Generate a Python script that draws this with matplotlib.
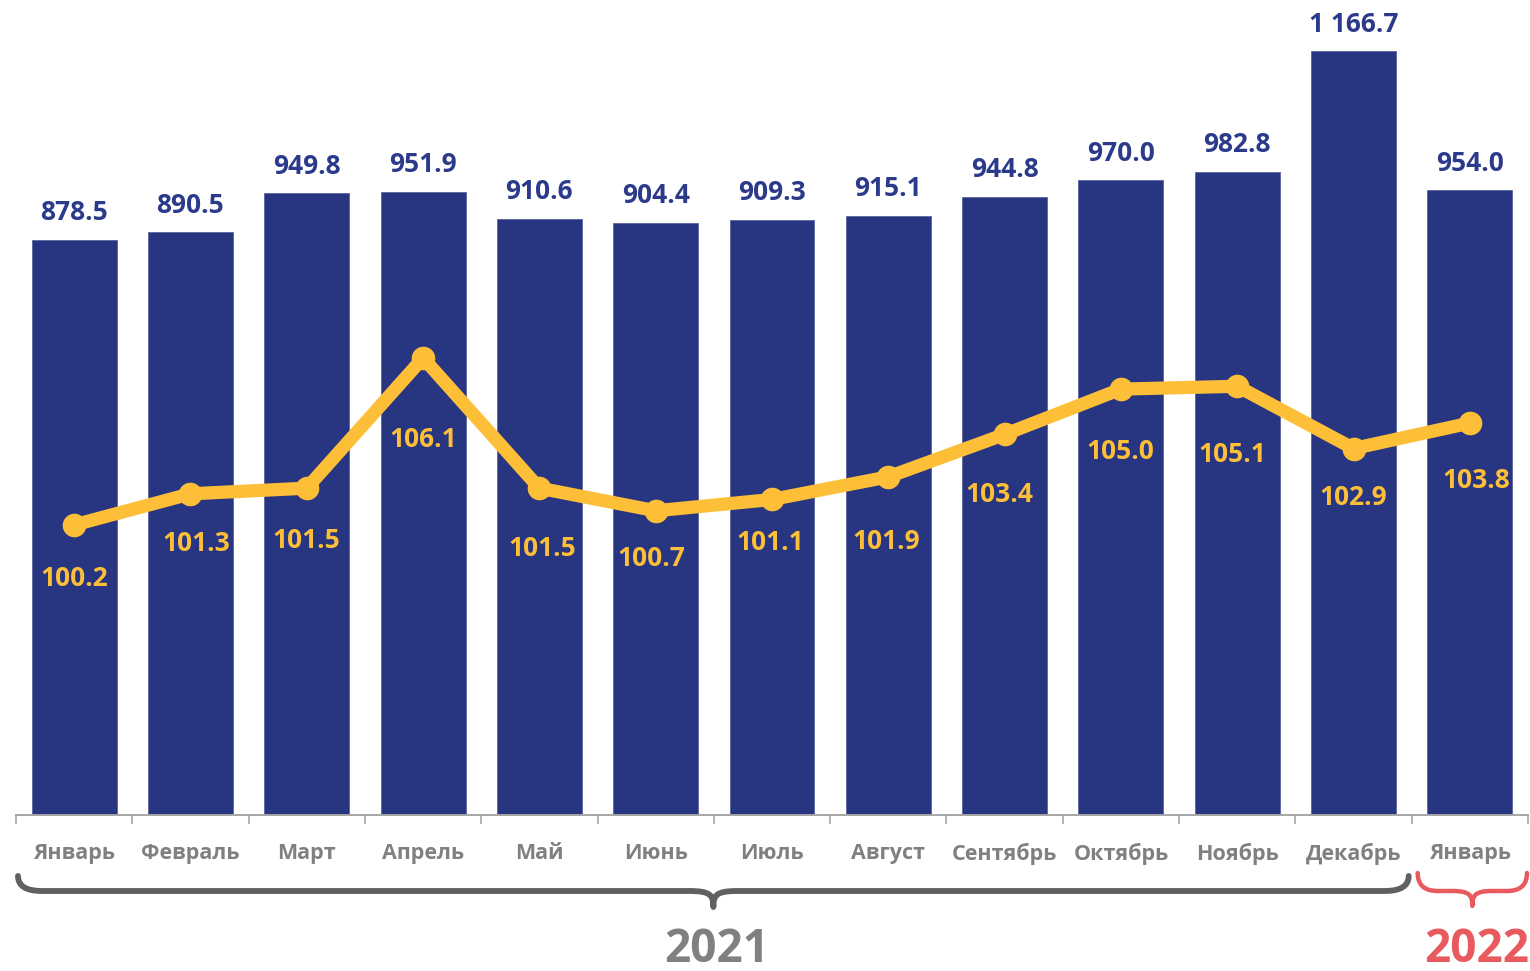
import matplotlib
matplotlib.use("Agg")
import matplotlib.pyplot as plt
from matplotlib.path import Path
from matplotlib.patches import PathPatch

plt.rcParams['font.family'] = ['Open Sans', 'DejaVu Sans']
plt.rcParams['font.weight'] = 'bold'

# данные
months = ['Январь', 'Февраль', 'Март', 'Апрель', 'Май', 'Июнь', 'Июль',
          'Август', 'Сентябрь', 'Октябрь', 'Ноябрь', 'Декабрь', 'Январь']
wages = [878.5, 890.5, 949.8, 951.9, 910.6, 904.4, 909.3,
         915.1, 944.8, 970.0, 982.8, 1166.7, 954.0]
index_pct = [100.2, 101.3, 101.5, 106.1, 101.5, 100.7, 101.1,
             101.9, 103.4, 105.0, 105.1, 102.9, 103.8]
years = ['2021', '2022']

# сдвиг подписей линии (пиксели), как они стоят на слайде
lbl_dx = [0, 6, 0, 0, 3, -4, -2, -2, -5, -1, -5, 0, 6]
lbl_dy = [54, 50, 52, 82, 60, 48, 43, 65, 60, 62, 68, 49, 57]

navy = '#283580'
yellow = '#FDBF38'
gray = '#808080'
red = '#E85A5E'

W, H = 1530, 971
fig = plt.figure(figsize=(W / 100, H / 100), dpi=100)

left, right, base = 16, 1528, 815
ax = fig.add_axes([left / W, (H - base) / H, (right - left) / W, base / H])
x = list(range(len(months)))

ax.bar(x, wages, width=0.73, color=navy, edgecolor='#5A64A0', linewidth=0.6, zorder=2)
ax.set_xlim(-0.5, len(months) - 0.5)
ax.set_ylim(0, 1245)
for xi, v in zip(x, wages):
    s = f'{v:,.1f}'.replace(',', ' ')
    ax.annotate(s, (xi, v), xytext=(0, 27), textcoords='offset pixels',
                ha='center', va='center', fontsize=19, color='#2B3A8A',
                fontweight='bold')

for s in ['top', 'right', 'left']:
    ax.spines[s].set_visible(False)
ax.spines['bottom'].set_color('#A6A6A6')
ax.spines['bottom'].set_linewidth(1.4)
ax.set_yticks([])
ax.set_xticks(x)
ax.set_xticklabels(months, fontsize=15.5, color=gray, fontweight='bold')
ax.tick_params(axis='x', which='major', length=0, pad=20)
ax.set_xticks([i - 0.5 for i in range(len(months) + 1)], minor=True)
ax.tick_params(axis='x', which='minor', length=6.5, width=1.2, color='#A6A6A6')

ax2 = ax.twinx()
ax2.set_ylim(89.95, 118.75)
ax2.plot(x, index_pct, color=yellow, linewidth=9.5, marker='o', markersize=16,
         solid_joinstyle='round', solid_capstyle='round', zorder=3)
for xi, v, dx, dy in zip(x, index_pct, lbl_dx, lbl_dy):
    ax2.annotate(f'{v:.1f}', (xi, v), xytext=(dx, -dy), textcoords='offset pixels',
                 ha='center', va='center', fontsize=19, color=yellow,
                 fontweight='bold')
ax2.axis('off')

# фигурные скобки и годы
ov = fig.add_axes([0, 0, 1, 1])
ov.set_xlim(0, W)
ov.set_ylim(H, 0)
ov.axis('off')
unit = (right - left) / len(months)


def brace(x0, x1, xm, ytop, yh, ytip, r, color, lw):
    verts = [(x0, ytop), (x0, yh), (x0 + r, yh),
             (xm - r, yh),
             (xm - 3, yh), (xm, yh + 4), (xm, ytip),
             (xm, yh + 4), (xm + 3, yh), (xm + r, yh),
             (x1 - r, yh),
             (x1, yh), (x1, ytop)]
    codes = [Path.MOVETO, Path.CURVE3, Path.CURVE3,
             Path.LINETO,
             Path.CURVE4, Path.CURVE4, Path.CURVE4,
             Path.CURVE4, Path.CURVE4, Path.CURVE4,
             Path.LINETO,
             Path.CURVE3, Path.CURVE3]
    ov.add_patch(PathPatch(Path(verts, codes), fill=False, edgecolor=color,
                           linewidth=lw, capstyle='round', joinstyle='round'))


x0 = left + 2
x1 = left + 12 * unit - 3
brace(x0, x1, (x0 + x1) / 2, 876, 891, 907, 24, '#606060', 4.2)
r0 = left + 12 * unit + 6
r1 = right - 1
brace(r0, r1, (r0 + r1) / 2, 873, 891, 906, 20, red, 3.2)

ov.text((x0 + x1) / 2 + 3, 950, years[0], ha='center', va='center',
        fontsize=33, color=gray, fontweight='bold')
ov.text((r0 + r1) / 2 + 4, 949, years[1], ha='center', va='center',
        fontsize=33, color=red, fontweight='bold')

fig.savefig('out.png', dpi=100)
